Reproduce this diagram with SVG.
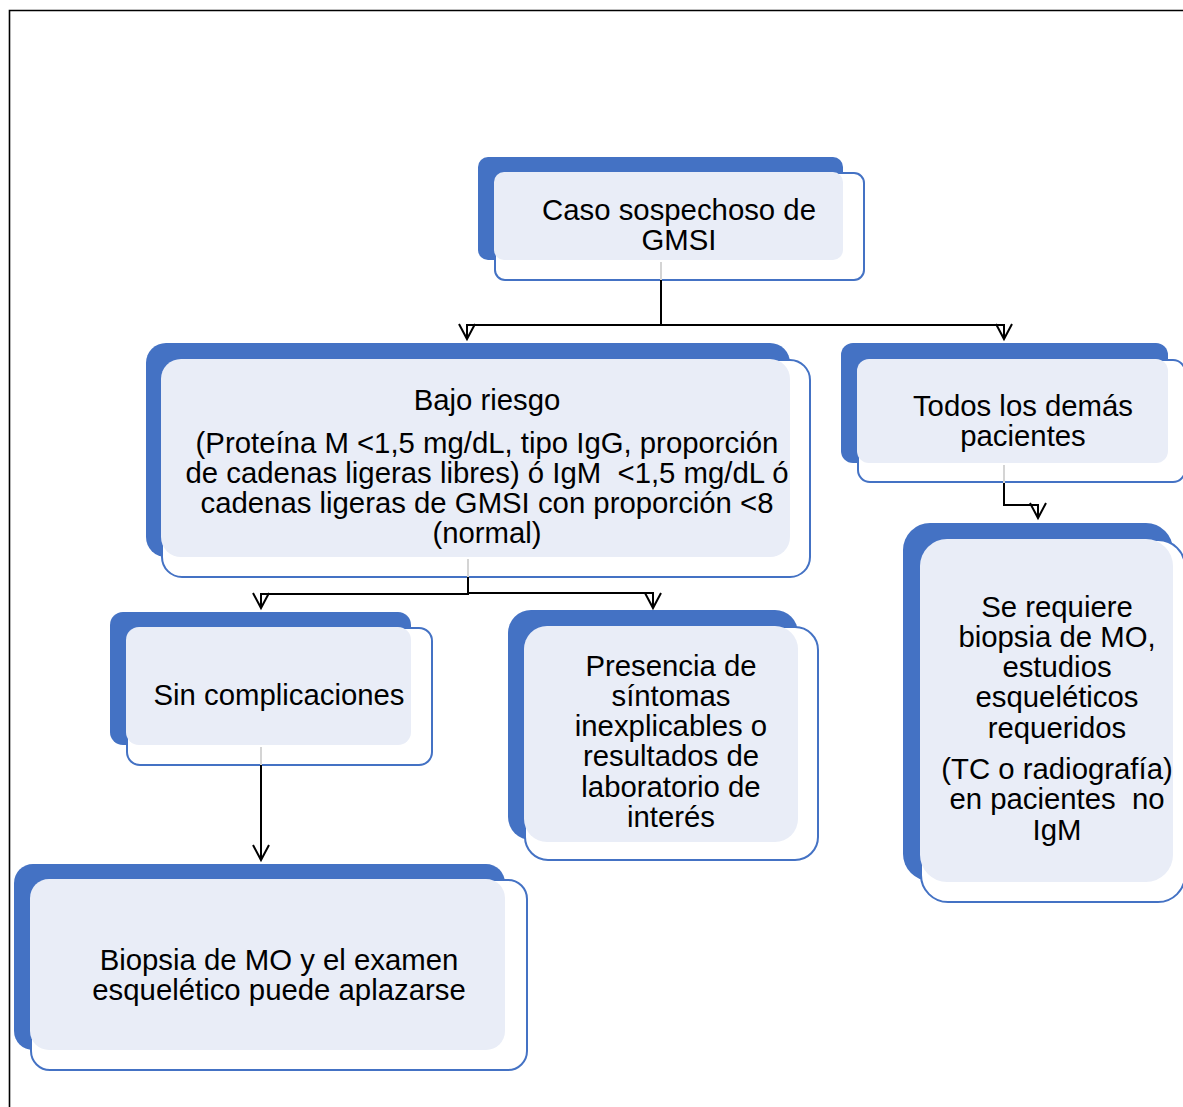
<svg xmlns="http://www.w3.org/2000/svg" width="1183" height="1107" viewBox="0 0 1183 1107">
<style>
.back{fill:#4472C4}
.out{fill:#FFFFFF;stroke:#4472C4;stroke-width:2}
.light{fill:#E9EDF7}
.t{font-family:"Liberation Sans",Arial,sans-serif;font-size:29.33px;fill:#000;text-anchor:middle}
.c{fill:none;stroke:#000;stroke-width:2}
.f{fill:none;stroke:#D4D4D4;stroke-width:2}
</style>
<defs>
<marker id="arr" markerUnits="userSpaceOnUse" viewBox="-17 -10 19 20" refX="0" refY="0" markerWidth="19" markerHeight="20" orient="auto" overflow="visible">
<path d="M-15,-8 L0,0 L-15,8" fill="none" stroke="#000" stroke-width="2"/>
</marker>
</defs>
<rect width="1183" height="1107" fill="#FFFFFF"/>
<g id="frame">
<path d="M9.5,1107 V10.5 H1183" fill="none" stroke="#000" stroke-width="1.6"/>
</g>
<g id="n1">
<rect class="back" x="478" y="157" width="365" height="103" rx="10"/>
<rect class="out" x="495" y="173" width="369" height="107" rx="10"/>
<rect class="light" x="494" y="172" width="349" height="88" rx="10"/>
<text class="t" x="679" y="220">Caso sospechoso de</text>
<text class="t" x="679" y="250">GMSI</text>
</g>
<g id="n2">
<rect class="back" x="146" y="343" width="644" height="214" rx="20"/>
<rect class="out" x="162" y="360" width="648" height="217" rx="20"/>
<rect class="light" x="161" y="359" width="629" height="198" rx="20"/>
<text class="t" x="487" y="410">Bajo riesgo</text>
<text class="t" x="487" y="453">(Proteína M &lt;1,5 mg/dL, tipo IgG, proporción</text>
<text class="t" x="487" y="483" xml:space="preserve">de cadenas ligeras libres) ó IgM  &lt;1,5 mg/dL ó</text>
<text class="t" x="487" y="513">cadenas ligeras de GMSI con proporción &lt;8</text>
<text class="t" x="487" y="543">(normal)</text>
</g>
<g id="n3">
<rect class="back" x="841" y="343" width="327" height="120" rx="12"/>
<rect class="out" x="858" y="360" width="327" height="122" rx="12"/>
<rect class="light" x="857" y="359" width="311" height="104" rx="12"/>
<text class="t" x="1023" y="416">Todos los demás</text>
<text class="t" x="1023" y="446">pacientes</text>
</g>
<g id="n4">
<rect class="back" x="903" y="523" width="270" height="358" rx="27"/>
<rect class="out" x="921" y="540" width="264" height="362" rx="27"/>
<rect class="light" x="920" y="539" width="253" height="343" rx="27"/>
<text class="t" x="1057" y="617">Se requiere</text>
<text class="t" x="1057" y="647">biopsia de MO,</text>
<text class="t" x="1057" y="677">estudios</text>
<text class="t" x="1057" y="707">esqueléticos</text>
<text class="t" x="1057" y="738">requeridos</text>
<text class="t" x="1057" y="779">(TC o radiografía)</text>
<text class="t" x="1057" y="809" xml:space="preserve">en pacientes  no</text>
<text class="t" x="1057" y="840">IgM</text>
</g>
<g id="n5">
<rect class="back" x="110" y="612" width="301" height="133" rx="13"/>
<rect class="out" x="127" y="628" width="305" height="137" rx="13"/>
<rect class="light" x="126" y="627" width="285" height="118" rx="13"/>
<text class="t" x="279" y="705">Sin complicaciones</text>
</g>
<g id="n6">
<rect class="back" x="508" y="610" width="290" height="230" rx="23"/>
<rect class="out" x="525" y="627" width="293" height="233" rx="23"/>
<rect class="light" x="524" y="626" width="274" height="216" rx="23"/>
<text class="t" x="671" y="676">Presencia de</text>
<text class="t" x="671" y="706">síntomas</text>
<text class="t" x="671" y="736">inexplicables o</text>
<text class="t" x="671" y="766">resultados de</text>
<text class="t" x="671" y="797">laboratorio de</text>
<text class="t" x="671" y="827">interés</text>
</g>
<g id="n7">
<rect class="back" x="14" y="864" width="491" height="186" rx="19"/>
<rect class="out" x="31" y="880" width="496" height="190" rx="19"/>
<rect class="light" x="30" y="879" width="475" height="171" rx="19"/>
<text class="t" x="279" y="970">Biopsia de MO y el examen</text>
<text class="t" x="279" y="1000">esquelético puede aplazarse</text>
</g>
<g id="connectors">
<path class="f" d="M661,262 V280 M468,559 V577 M261,747 V765 M1004,465 V483"/>
<path class="c" d="M661,280 V325 H467 V339" marker-end="url(#arr)"/>
<path class="c" d="M661,325 H1004 V339" marker-end="url(#arr)"/>
<path class="c" d="M468,577 V594 H261 V608" marker-end="url(#arr)"/>
<path class="c" d="M468,593 H653 V608" marker-end="url(#arr)"/>
<path class="c" d="M261,765 V860" marker-end="url(#arr)"/>
<path class="c" d="M1004,483 V505 H1038 V518" marker-end="url(#arr)"/>
</g>
</svg>
